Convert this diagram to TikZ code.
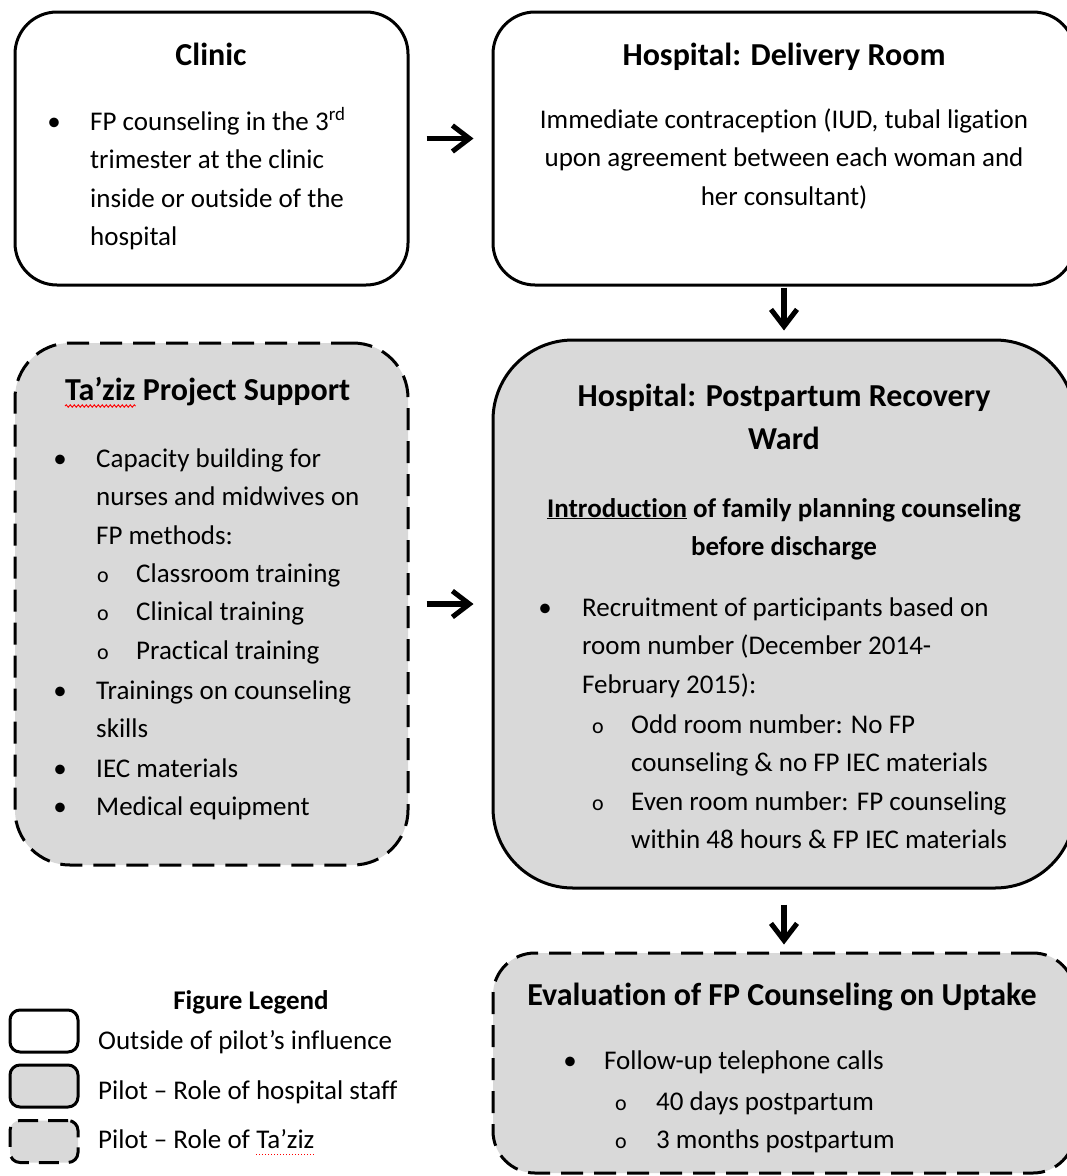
\documentclass[tikz,border=0pt]{standalone}
\usepackage{fontspec}
\setmainfont{Carlito}[Ligatures=NoCommon]
\usetikzlibrary{arrows.meta,positioning,decorations.pathmorphing}
\definecolor{staffgray}{HTML}{D9D9D9}

\tikzset{
  outbox/.style={draw, line width=3pt, rounded corners=42pt, fill=white, inner sep=0pt},
  staffbox/.style={outbox, fill=staffgray},
  tazbox/.style={staffbox, dash pattern=on 22pt off 11pt},
  head/.style={font=\fontsize{32}{43}\selectfont\bfseries, align=center, anchor=base, inner sep=0pt},
  txt/.style={font=\fontsize{27}{38.6}\selectfont, align=left, anchor=base west, inner sep=0pt},
  ctxt/.style={txt, align=center, anchor=base},
  dot/.style={font=\fontsize{27}{38.6}\selectfont, anchor=base, inner sep=0pt},
  subdot/.style={font=\fontsize{22}{30}\selectfont, anchor=base, inner sep=0pt},
  flow/.style={-{Straight Barb[length=17pt,width=26pt,line width=5pt]}, line width=5.5pt},
  spell/.style={red, line width=0.9pt, decorate, decoration={snake, amplitude=1.2pt, segment length=4pt}}
}

\begin{document}
\begin{tikzpicture}[x=1pt, y=-1pt]
  \clip (0,0) rectangle (1067,1176);
  \fill[white] (0,0) rectangle (1067,1176);

  % Boxes
  \node[outbox, minimum width=393pt, minimum height=273pt] (clinic) at (211.5,148.5) {};
  \node[outbox, minimum width=582pt, minimum height=273pt] (delivery) at (784,148.5) {};
  \node[tazbox, rounded corners=55pt, minimum width=393pt, minimum height=522pt] (taziz) at (211.5,604) {};
  \node[staffbox, rounded corners=80pt, minimum width=582pt, minimum height=548pt] (ward) at (784,614) {};
  \node[tazbox, minimum width=582pt, minimum height=220pt] (evaluation) at (784,1063) {};

  % Arrows
  \draw[flow, shorten <=17pt, shorten >=18pt] ([yshift=10pt]clinic.east) -- ([yshift=10pt]delivery.west);
  \draw[flow, shorten <=1pt, shorten >=8pt] (delivery.south) -- (ward.north);
  \draw[flow, shorten <=17pt, shorten >=18pt] (taziz.east) -- (taziz.east -| ward.west);
  \draw[flow, shorten <=15pt, shorten >=7pt] (ward.south) -- (evaluation.north);

  % Clinic (multi-line texts sit on their last baseline)
  \node[head] (clinic-title) at (211,65) {Clinic};
  \node[dot] (clinic-b1) at (54,130) {•};
  \node[txt] (clinic-t1) at (90,245.8) {FP counseling in the 3\textsuperscript{rd}\\trimester at the clinic\\inside or outside of the\\hospital};

  % Delivery room
  \node[head] (deliv-title) at (784,65) {Hospital: Delivery Room};
  \node[ctxt] (deliv-t1) at (784,205.2) {Immediate contraception (IUD, tubal ligation\\upon agreement between each woman and\\her consultant)};

  % Ta'ziz support
  \node[head, anchor=base west] (taz-word) at (65,400) {Ta’ziz};
  \node[head, anchor=base west] (taz-rest) at ([xshift=7pt]taz-word.base east) {Project Support};
  \draw[spell] ([yshift=-6pt]taz-word.base west) -- ([yshift=-6pt]taz-word.base east);
  \foreach \y [count=\i] in {467,699,777,815}
    \node[dot] (taz-b\i) at (60,\y) {•};
  \foreach \y [count=\i] in {582,620,659}
    \node[subdot] (taz-o\i) at (103,\y) {o};
  \node[txt] (taz-t1) at (96,544.2) {Capacity building for\\nurses and midwives on\\FP methods:};
  \node[txt] (taz-s1) at (136,659.2) {Classroom training\\Clinical training\\Practical training};
  \node[txt] (taz-t2) at (96,737.6) {Trainings on counseling\\skills};
  \node[txt] (taz-t3) at (96,777) {IEC materials};
  \node[txt] (taz-t4) at (96,815) {Medical equipment};

  % Postpartum ward
  \node[head] (ward-title) at (784,449) {Hospital: Postpartum Recovery\\Ward};
  \node[ctxt, font=\fontsize{27}{38}\selectfont\bfseries] (ward-intro) at (784,555) {\underline{Introduction} of family planning counseling\\before discharge};
  \node[dot] (ward-b1) at (545,616) {•};
  \node[txt] (ward-t1) at (582,693.2) {Recruitment of participants based on\\room number (December 2014-\\February 2015):};
  \foreach \y [count=\i] in {733,810}
    \node[subdot] (ward-o\i) at (598,\y) {o};
  \node[txt] (ward-s1) at (631,771.6) {Odd room number: No FP\\counseling \& no FP IEC materials};
  \node[txt] (ward-s2) at (631,848.6) {Even room number: FP counseling\\within 48 hours \& FP IEC materials};

  % Evaluation
  \node[head] (eval-title) at (782,1005) {Evaluation of FP Counseling on Uptake};
  \node[dot] (eval-b1) at (570,1069) {•};
  \node[txt] (eval-t1) at (604,1069) {Follow-up telephone calls};
  \foreach \y [count=\i] in {1110,1148}
    \node[subdot] (eval-o\i) at (621,\y) {o};
  \node[txt] (eval-s1) at (656,1148.6) {40 days postpartum\\3 months postpartum};

  % Legend
  \node[head, font=\fontsize{27}{38}\selectfont\bfseries] (legend-title) at (251,1009) {Figure Legend};
  \node[outbox, rounded corners=10pt, minimum width=68pt, minimum height=42pt] (key-out) at (44,1031) {};
  \node[staffbox, rounded corners=10pt, minimum width=68pt, minimum height=42pt] (key-staff) at (44,1086) {};
  \node[tazbox, rounded corners=10pt, dash pattern=on 20pt off 10pt, minimum width=68pt, minimum height=42pt] (key-taz) at (44,1141.5) {};
  \node[txt] (key-out-txt) at (98,1049) {Outside of pilot’s influence};
  \node[txt] (key-staff-txt) at (98,1099) {Pilot – Role of hospital staff};
  \node[txt] (key-taz-txt) at (98,1148) {Pilot – Role of};
  \node[txt] (key-taz-word) at ([xshift=6pt]key-taz-txt.base east) {Ta’ziz};
  \draw[red, line width=1pt, dotted] ([yshift=-6pt]key-taz-word.base west) -- ([yshift=-6pt]key-taz-word.base east);
\end{tikzpicture}
\end{document}
